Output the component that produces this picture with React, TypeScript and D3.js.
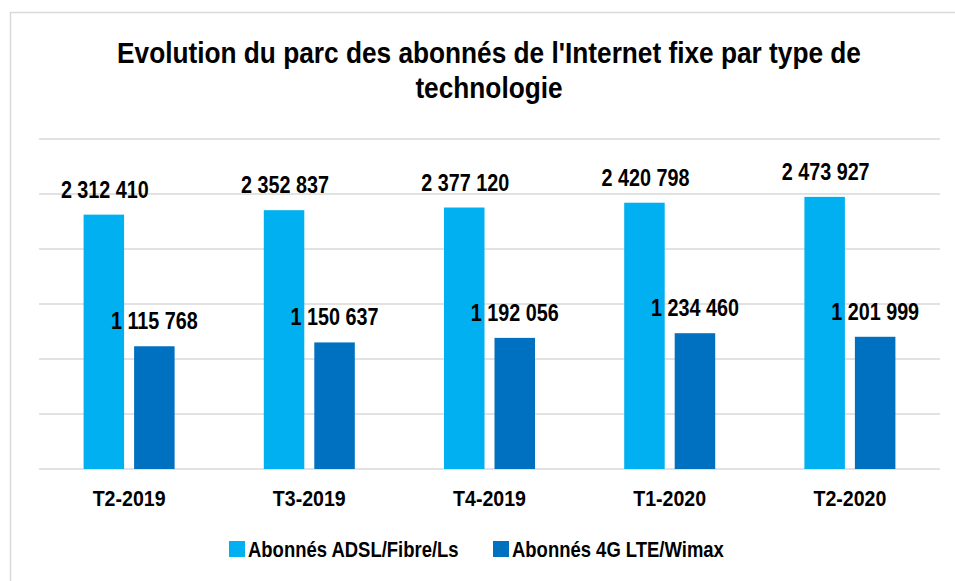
import React, { useEffect, useRef } from "react";
import * as d3 from "d3";

const categories = ["T2-2019", "T3-2019", "T4-2019", "T1-2020", "T2-2020"];
const adslValues = [2312410, 2352837, 2377120, 2420798, 2473927];
const lteValues = [1115768, 1150637, 1192056, 1234460, 1201999];
const seriesNames = ["Abonnés ADSL/Fibre/Ls", "Abonnés 4G LTE/Wimax"];
const seriesColors = ["#00B0F0", "#0070C0"];
const yTicks = [0, 500000, 1000000, 1500000, 2000000, 2500000, 3000000];

const FONT = "'Liberation Sans', Arial, sans-serif";

const fmt = (v: number) => d3.format(",")(v).replace(/,/g, " ");

// the source font is a condensed bold, so squeeze Liberation Sans horizontally
const squeeze = (x: number, y: number, s: number) => `translate(${x},${y}) scale(${s},1)`;

const App = () => {
  const ref = useRef<SVGSVGElement>(null);

  useEffect(() => {
    const svg = d3.select(ref.current);
    svg.selectAll("*").remove();

    const W = 955, H = 581;
    const plot = { left: 39, right: 940, top: 139, bottom: 469 };

    // outer border of the chart area
    svg.append("rect")
      .attr("x", 10.5).attr("y", 12.5)
      .attr("width", W).attr("height", H)
      .attr("fill", "white").attr("stroke", "#d9d9d9").attr("stroke-width", 1.5);

    // title
    const titleLines = ["Evolution du parc des abonnés de l'Internet fixe par type de", "technologie"];
    svg.append("g").selectAll("text").data(titleLines).join("text")
      .attr("transform", (d, i) => squeeze(489, 63 + i * 35, 0.875))
      .attr("text-anchor", "middle")
      .attr("font-family", FONT).attr("font-weight", "bold").attr("font-size", 30)
      .attr("fill", "#000")
      .text(d => d);

    const x = d3.scaleBand().domain(categories).range([plot.left, plot.right]);
    const y = d3.scaleLinear().domain([0, 3000000]).range([plot.bottom, plot.top]);

    // gridlines
    svg.append("g").selectAll("line").data(yTicks).join("line")
      .attr("x1", plot.left).attr("x2", plot.right)
      .attr("y1", d => y(d)).attr("y2", d => y(d))
      .attr("stroke", "#d9d9d9").attr("stroke-width", 1.5);

    const barW = 40.5, gap = 10;
    const inner = d3.scaleOrdinal<number, number>()
      .domain([0, 1])
      .range([-gap / 2 - barW, gap / 2]);

    const series = [adslValues, lteValues];
    series.forEach((vals, si) => {
      const g = svg.append("g");
      g.selectAll("rect").data(vals).join("rect")
        .attr("x", (d, i) => x(categories[i])! + x.bandwidth() / 2 + inner(si))
        .attr("y", d => y(d))
        .attr("width", barW)
        .attr("height", d => plot.bottom - y(d))
        .attr("fill", seriesColors[si]);
      g.selectAll("text").data(vals).join("text")
        .attr("transform", (d, i) =>
          squeeze(x(categories[i])! + x.bandwidth() / 2 + inner(si) + barW / 2 + (si === 0 ? 1 : 0), y(d) - 17, 0.86))
        .attr("text-anchor", "middle")
        .attr("font-family", FONT).attr("font-weight", "bold").attr("font-size", 23)
        .attr("fill", "#000")
        .text(d => fmt(d));
    });

    // category axis labels
    svg.append("g").selectAll("text").data(categories).join("text")
      .attr("transform", d => squeeze(x(d)! + x.bandwidth() / 2, 506, 0.89))
      .attr("text-anchor", "middle")
      .attr("font-family", FONT).attr("font-weight", "bold").attr("font-size", 22)
      .attr("fill", "#000")
      .text(d => d);

    // legend
    const legendX = [229, 493];
    const lg = svg.append("g");
    seriesNames.forEach((name, i) => {
      lg.append("rect")
        .attr("x", legendX[i]).attr("y", 541)
        .attr("width", 16).attr("height", 16)
        .attr("fill", seriesColors[i]);
      lg.append("text")
        .attr("transform", squeeze(legendX[i] + 19, 557, 0.84))
        .attr("font-family", FONT).attr("font-weight", "bold").attr("font-size", 22)
        .attr("fill", "#000")
        .text(name);
    });
  }, []);

  return (
    <svg
      ref={ref}
      width={955}
      height={581}
      style={{ position: "absolute", left: 0, top: 0, background: "white" }}
    />
  );
};

export default App;
